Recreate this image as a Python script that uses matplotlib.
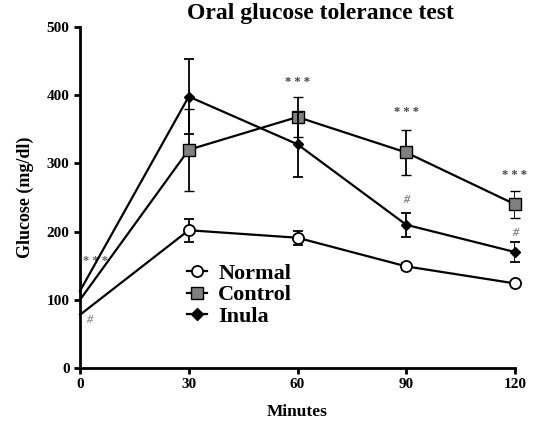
import matplotlib
matplotlib.use("Agg")
import matplotlib.pyplot as plt
from matplotlib.lines import Line2D

minutes = [0, 30, 60, 90, 120]
normal = [78, 202, 191, 149, 124]
normal_err = [0, 17, 10, 5, 4]
control = [100, 320, 368, 316, 240]
control_err = [0, 60, 30, 33, 20]
inula = [113, 398, 328, 210, 170]
inula_err = [0, 55, 48, 18, 15]

star_x = [60, 90, 120]
star_y = [420, 375, 283]
hash_x = [90, 120]
hash_y = [246, 198]

plt.rcParams['font.family'] = ['Liberation Serif', 'DejaVu Serif']
plt.rcParams['font.weight'] = 'bold'

fig = plt.figure(figsize=(5.53, 4.28), dpi=100)
ax = fig.add_axes([80/553, 1-368/428, 435/553, 341/428])

lw = 1.6
mk = [1, 2, 3, 4]
common = dict(color='black', lw=lw, capsize=3.5, capthick=1.3, elinewidth=1.3,
              markevery=mk, errorevery=(1, 1))
ax.errorbar(minutes, normal, yerr=normal_err, marker='o', ms=8, mfc='white', mec='black', mew=1.3,
            zorder=3, **common)
ax.errorbar(minutes, control, yerr=control_err, marker='s', ms=9, mfc='#808080', mec='black', mew=1.0,
            zorder=3, **common)
ax.errorbar(minutes, inula, yerr=inula_err, marker='D', ms=5.5, mfc='black', mec='black',
            zorder=4, **common)

for x, y in zip(star_x, star_y):
    ax.text(x, y, '* * *', ha='center', va='center', fontsize=9, color='#444444')
for x, y in zip(hash_x, hash_y):
    ax.text(x, y, '#', ha='center', va='center', fontsize=9, color='#777777', style='italic')
ax.text(0.8, 157, '* * *', ha='left', va='center', fontsize=9, color='#666666')
ax.text(2.5, 70, '#', ha='center', va='center', fontsize=9, color='#888888', style='italic')

ax.set_xlim(0, 120)
ax.set_ylim(0, 500)
ax.set_xticks(minutes)
ax.set_yticks([0, 100, 200, 300, 400, 500])
ax.spines['top'].set_visible(False)
ax.spines['right'].set_visible(False)
ax.spines['left'].set_linewidth(2)
ax.spines['bottom'].set_linewidth(2)
ax.tick_params(width=2, length=4, labelsize=11)
for lab in ax.get_xticklabels() + ax.get_yticklabels():
    lab.set_fontweight('bold')
for art in ax.lines:
    art.set_clip_on(False)

ax.set_xlabel('Minutes', fontsize=12.5, fontweight='bold', labelpad=9)
ax.set_ylabel('Glucose (mg/dl)', fontsize=13, fontweight='bold', labelpad=9)
fig.text(320/553, 1-14/428, 'Oral glucose tolerance test', ha='center', va='center',
         fontsize=17, fontweight='bold')

handles = [
    Line2D([], [], color='black', lw=1.6, marker='o', ms=8, mfc='white', mec='black', mew=1.3),
    Line2D([], [], color='black', lw=1.6, marker='s', ms=9, mfc='#808080', mec='black'),
    Line2D([], [], color='black', lw=1.6, marker='D', ms=6, mfc='black', mec='black'),
]
ax.legend(handles, ['Normal', 'Control', 'Inula'], loc='upper left',
          bbox_to_anchor=(96/435, 1-(252-27)/341), frameon=False,
          handlelength=0.9, handletextpad=0.5, labelspacing=0.05, borderpad=0,
          prop={'weight': 'bold', 'size': 16})

fig.savefig('out.png', dpi=100)
